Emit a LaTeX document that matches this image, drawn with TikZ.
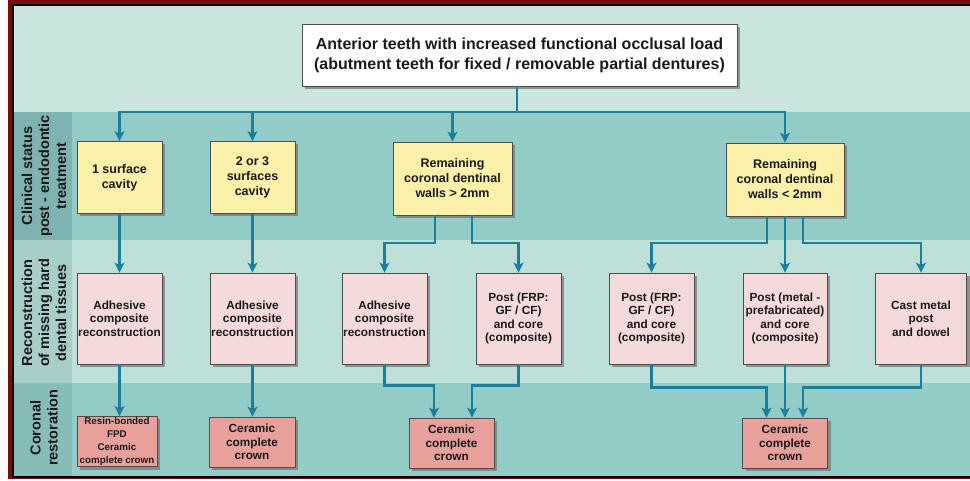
\documentclass[tikz,border=0pt]{standalone}
\usepackage{fontspec}
\setmainfont{Liberation Sans}
\usetikzlibrary{arrows.meta,shadows}
\definecolor{topband}{HTML}{C8E5DE}
\definecolor{darkband}{HTML}{93CBC6}
\definecolor{lightband}{HTML}{BEE0D8}
\definecolor{labA}{HTML}{7FB3B1}
\definecolor{labB}{HTML}{A7CEC8}
\definecolor{labC}{HTML}{86BDB9}
\definecolor{yel}{HTML}{FBF0AA}
\definecolor{pnk}{HTML}{F5DADB}
\definecolor{sal}{HTML}{E8A09B}
\definecolor{conn}{HTML}{1B7E9B}
\definecolor{frame}{HTML}{7B0C0C}
\definecolor{txt}{HTML}{1A1A1A}
\tikzset{
  box/.style={draw=black!70, line width=0.8pt, align=center, text=txt,
    inner sep=1pt, font=\fontsize{11.8}{13.6}\selectfont\bfseries,
    drop shadow={shadow xshift=3pt, shadow yshift=-3pt, fill=black!55, opacity=0.7}},
  ybox/.style={box, fill=yel, font=\fontsize{12.5}{15}\selectfont\bfseries},
  pbox/.style={box, fill=pnk},
  sbox/.style={box, fill=sal},
  arr/.style={draw=conn, line width=2.2pt, -{Stealth[length=10pt,width=10pt,inset=2.5pt]}},
  ln/.style={draw=conn, line width=2.2pt},
  sidelabel/.style={rotate=90, align=center, text=txt, font=\fontsize{14.5}{17}\selectfont\bfseries}
}
\begin{document}
\begin{tikzpicture}[x=1pt,y=-1pt]
\useasboundingbox (0,0) rectangle (970,481);
% frame and bands
\fill[white] (0,0) rectangle (970,481);
\fill[frame] (8,0) rectangle (970,479);
\fill[black] (12,4) rectangle (970,478);
\fill[topband] (14,6) rectangle (970,112);
\fill[darkband] (14,112) rectangle (970,240);
\fill[lightband] (14,240) rectangle (970,383);
\fill[darkband] (14,383) rectangle (970,476);
\fill[labA] (14,112) rectangle (72,240);
\fill[labB] (14,240) rectangle (72,383);
\fill[labC] (14,383) rectangle (72,476);
% side labels
\node[sidelabel] (L1) at (44,176) {Clinical status\\post - endodontic\\treatment};
\node[sidelabel] (L2) at (44,313) {Reconstruction\\of missing hard\\dental tissues};
\node[sidelabel] (L3) at (44,428) {Coronal\\restoration};
% top box
\node[box, fill=white, minimum width=435pt, minimum height=62pt, font=\fontsize{16}{20}\selectfont\bfseries] (top) at (519.5,55)
  {Anterior teeth with increased functional occlusal load\\(abutment teeth for fixed / removable partial dentures)};
% row 1
\node[ybox, minimum width=85pt, minimum height=72pt] (B1) at (119.5,177.5) {1 surface\\cavity};
\node[ybox, minimum width=85pt, minimum height=72pt] (B2) at (252.5,177.5) {2 or 3\\surfaces\\cavity};
\node[ybox, minimum width=119pt, minimum height=73pt] (B3) at (452.5,178.5) {Remaining\\coronal dentinal\\walls > 2mm};
\node[ybox, minimum width=118pt, minimum height=73pt] (B4) at (785,179.5) {Remaining\\coronal dentinal\\walls < 2mm};
% row 2
\node[pbox, minimum width=85pt, minimum height=91pt] (C1) at (119.5,318.5) {Adhesive\\composite\\reconstruction};
\node[pbox, minimum width=85pt, minimum height=91pt] (C2) at (252.5,318.5) {Adhesive\\composite\\reconstruction};
\node[pbox, minimum width=85pt, minimum height=91pt] (C3) at (384.5,318.5) {Adhesive\\composite\\reconstruction};
\node[pbox, minimum width=85pt, minimum height=91pt] (C4) at (518.5,318.5) {Post (FRP:\\GF / CF)\\and core\\(composite)};
\node[pbox, minimum width=85pt, minimum height=91pt] (C5) at (651.5,318.5) {Post (FRP:\\GF / CF)\\and core\\(composite)};
\node[pbox, minimum width=84pt, minimum height=91pt] (C6) at (785,318.5) {Post (metal -\\prefabricated)\\and core\\(composite)};
\node[pbox, minimum width=91pt, minimum height=91pt] (C7) at (921,318.5) {Cast metal\\post\\and dowel};
% row 3
\node[sbox, minimum width=80pt, minimum height=49pt, font=\fontsize{9.8}{13}\selectfont\bfseries] (D1) at (117,441.5) {Resin-bonded\\FPD\\Ceramic\\complete crown};
\node[sbox, minimum width=86pt, minimum height=50pt] (D2) at (252,442) {Ceramic\\complete\\crown};
\node[sbox, minimum width=85pt, minimum height=50pt] (D3) at (451.5,443) {Ceramic\\complete\\crown};
\node[sbox, minimum width=85pt, minimum height=50pt] (D4) at (785,443) {Ceramic\\complete\\crown};
% connectors top -> row1
\coordinate (jt) at (517,112);
\draw[ln] (top.south -| jt) -- (jt);
\draw[arr] (jt) -| (B1.north);
\draw[arr] (jt) -| (B2.north);
\draw[arr] (jt) -| (B3.north);
\draw[arr] (jt) -| (B4.north);
% row1 -> row2
\draw[arr] (B1.south) -- (B1.south |- C1.north);
\draw[arr] (B2.south) -- (B2.south |- C2.north);
\draw[arr] ([xshift=-17.5pt]B3.south) -- ++(0,28) -| (C3.north);
\draw[arr] ([xshift=19.5pt]B3.south) -- ++(0,28) -| (C4.north);
\draw[arr] ([xshift=-18pt]B4.south) -- ++(0,27) -| (C5.north);
\draw[arr] (B4.south) -- (C6.north);
\draw[arr] ([xshift=18pt]B4.south) -- ++(0,27) -| (C7.north);
% row2 -> row3
\draw[arr] (C1.south) -- (C1.south |- D1.north);
\draw[arr] (C2.south) -- (C2.south |- D2.north);
\draw[arr] (C3.south) -- ++(0,21) -| ([xshift=-17.5pt]D3.north);
\draw[arr] (C4.south) -- ++(0,21) -| ([xshift=20.5pt]D3.north);
\draw[arr] (C5.south) -- ++(0,23) -| ([xshift=-18.5pt]D4.north);
\draw[arr] (C6.south) -- (D4.north);
\draw[arr] (C7.south) -- ++(0,23) -| ([xshift=18pt]D4.north);
\end{tikzpicture}
\end{document}
